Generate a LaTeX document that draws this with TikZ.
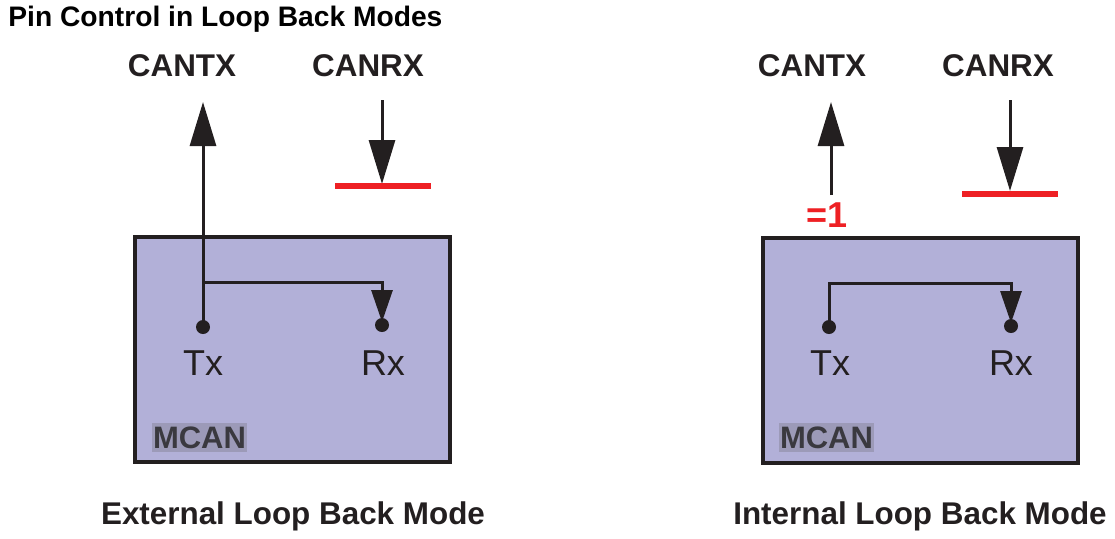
\documentclass[tikz,border=0pt]{standalone}
\usepackage{fontspec}
\setmainfont{Liberation Sans}
\usetikzlibrary{arrows.meta}
\definecolor{boxfill}{HTML}{B2B0D8}
\definecolor{ink}{HTML}{231F20}
\definecolor{redc}{HTML}{EE2024}
\definecolor{mcanbg}{HTML}{9C9AB8}
\definecolor{mcantx}{HTML}{3A393F}
\tikzset{
  mbox/.style={draw=ink, line width=1.7pt, fill=boxfill, minimum width=157.5pt, minimum height=112.5pt, inner sep=0pt},
  dot/.style={circle, fill=ink, minimum size=7pt, inner sep=0pt},
  pinlbl/.style={font=\fontsize{15.7pt}{18pt}\selectfont\bfseries, text=ink},
  caption/.style={font=\fontsize{15.7pt}{18pt}\selectfont\bfseries, text=ink},
  title/.style={font=\fontsize{14.1pt}{17pt}\selectfont\bfseries, text=black, anchor=west, inner sep=0pt},
  iolbl/.style={font=\fontsize{18pt}{21pt}\selectfont, text=ink},
  mcan/.style={font=\fontsize{15.5pt}{18pt}\selectfont\bfseries, text=mcantx, fill=mcanbg, minimum width=47.5pt, minimum height=14.5pt, inner sep=0pt},
  bigarr/.style={draw=ink, line width=1.5pt, -{Triangle[length=22pt,width=13pt]}},
  smallarr/.style={draw=ink, line width=1.5pt, -{Triangle[length=16pt,width=10.5pt]}},
  wire/.style={draw=ink, line width=1.5pt},
  redbar/.style={draw=redc, line width=3pt},
  eqone/.style={font=\fontsize{18pt}{20pt}\selectfont\bfseries, text=redc, inner sep=0pt}
}
\begin{document}
\begin{tikzpicture}[x=0.5pt, y=-0.5pt]
\useasboundingbox (0,0) rectangle (1115,538);
\node[title] (title) at (8,19) {Pin Control in Loop Back Modes};

% ---------- Left: External Loop Back ----------
\node[mbox] (boxL) at (292.5,349.5) {};
\node[pinlbl] (cantxL) at (182,66) {CANTX};
\node[pinlbl] (canrxL) at (368,66) {CANRX};
\node[dot] (txL) at (203,327) {};
\node[dot] (rxL) at (382,325) {};
\node[iolbl] (txlblL) at (203,363) {Tx};
\node[iolbl] (rxlblL) at (383,363) {Rx};
\node[mcan] (mcanL) at (199.5,437.5) {MCAN};
\node[caption] (capL) at (293,516) {External Loop Back Mode};
\coordinate (txtipL) at (203,102);
\coordinate (brL) at (203,282);
\coordinate (rxtipL) at (382,322);
\coordinate (rxstartL) at (382,100);
\coordinate (rxpinL) at (382,184);
\coordinate (barLa) at (335,186);
\coordinate (barLb) at (431,186);
\draw[bigarr] (txL.center) -- (txtipL);
\draw[smallarr] (brL) -| (rxtipL);
\draw[bigarr] (rxstartL) -- (rxpinL);
\draw[redbar] (barLa) -- (barLb);

% ---------- Right: Internal Loop Back ----------
\node[mbox] (boxR) at (920.5,350.5) {};
\node[pinlbl] (cantxR) at (812,66) {CANTX};
\node[pinlbl] (canrxR) at (998,66) {CANRX};
\node[dot] (txR) at (829,327) {};
\node[dot] (rxR) at (1011,326) {};
\node[iolbl] (txlblR) at (830,363) {Tx};
\node[iolbl] (rxlblR) at (1011,363) {Rx};
\node[mcan] (mcanR) at (826.5,437.5) {MCAN};
\node[caption] (capR) at (920,516) {Internal Loop Back Mode};
\node[eqone] (eq1) at (827,215) {=1};
\coordinate (txstartR) at (831,195);
\coordinate (txtipR) at (831,102);
\coordinate (rxtipR) at (1011,323);
\coordinate (rxstartR) at (1010,100);
\coordinate (rxpinR) at (1010,191);
\coordinate (barRa) at (962,194);
\coordinate (barRb) at (1058,194);
\draw[bigarr] (txstartR) -- (txtipR);
\draw[smallarr] (txR.center) |- (1011,283) -- (rxtipR);
\draw[bigarr] (rxstartR) -- (rxpinR);
\draw[redbar] (barRa) -- (barRb);
\end{tikzpicture}
\end{document}
